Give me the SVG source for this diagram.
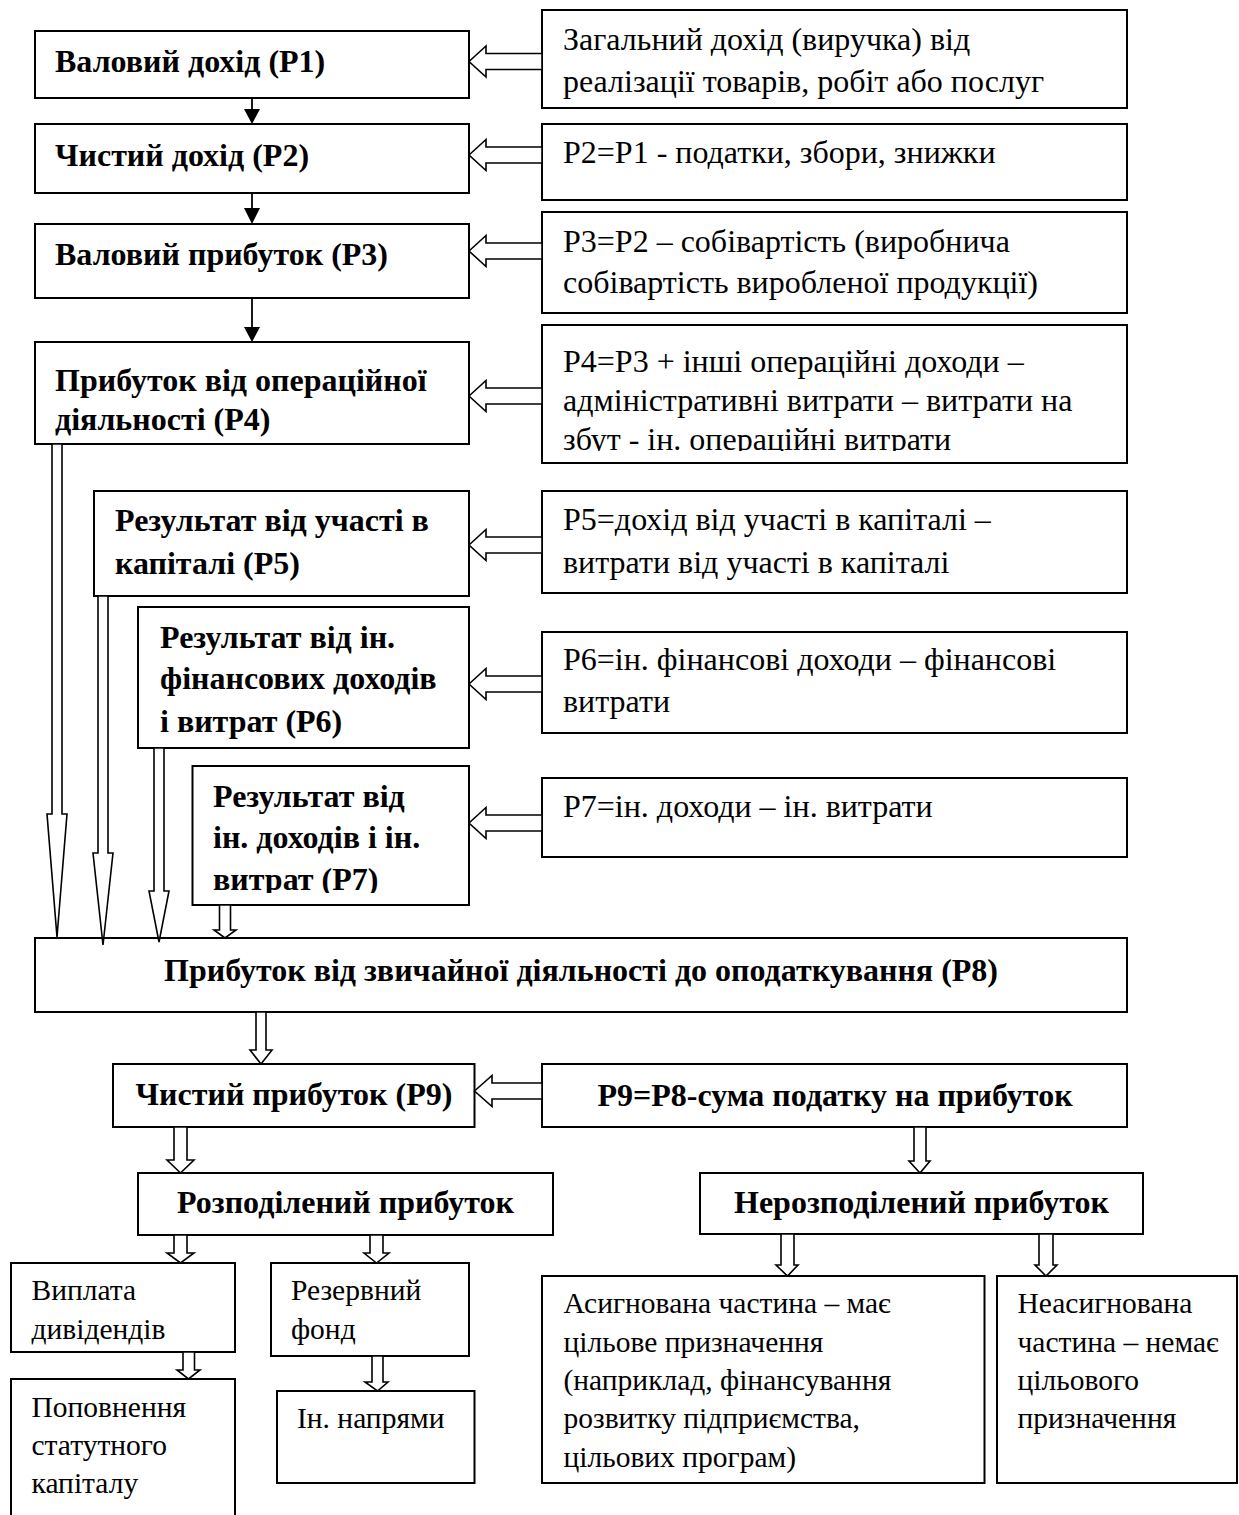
<svg xmlns="http://www.w3.org/2000/svg" width="1239" height="1515" viewBox="0 0 1239 1515">
<style>
.box{fill:#fff;stroke:#000;stroke-width:2}
.ha{fill:#fff;stroke:#000;stroke-width:1.6;stroke-linejoin:miter}
.sa{fill:#000;stroke:none}
.ln{stroke:#000;stroke-width:1.8;fill:none}
.b{font-family:"Liberation Serif","Times New Roman",serif;font-weight:bold;font-size:32px;fill:#000}
.r{font-family:"Liberation Serif","Times New Roman",serif;font-size:32px;fill:#000}
.rs{font-family:"Liberation Serif","Times New Roman",serif;font-size:29.5px;fill:#000}
.c{text-anchor:middle}
</style>
<defs>
<clipPath id="clipR4"><rect x="542" y="325" width="585" height="126"/></clipPath>
<clipPath id="clipP7"><rect x="192" y="766" width="277" height="127"/></clipPath>
</defs>
<rect width="1239" height="1515" fill="#fff"/>

<g id="nodes">
<g id="p1"><rect class="box" x="35" y="31" width="434" height="67"/><text class="b" x="55" y="72">Валовий дохід (P1)</text></g>
<g id="r1"><rect class="box" x="542" y="10" width="585" height="98"/><text class="r" x="563" y="50">Загальний дохід (виручка) від</text><text class="r" x="563" y="92">реалізації товарів, робіт або послуг</text></g>
<g id="p2"><rect class="box" x="35" y="124" width="434" height="69"/><text class="b" x="55" y="166">Чистий дохід (P2)</text></g>
<g id="r2"><rect class="box" x="542" y="124" width="585" height="76"/><text class="r" x="563" y="163">P2=P1 - податки, збори, знижки</text></g>
<g id="p3"><rect class="box" x="35" y="224" width="434" height="74"/><text class="b" x="55" y="265">Валовий прибуток (P3)</text></g>
<g id="r3"><rect class="box" x="542" y="212" width="585" height="101"/><text class="r" x="563" y="252">P3=P2 – собівартість (виробнича</text><text class="r" x="563" y="293">собівартість виробленої продукції)</text></g>
<g id="p4"><rect class="box" x="35" y="342" width="434" height="102"/><text class="b" x="55" y="391">Прибуток від операційної</text><text class="b" x="55" y="430">діяльності (P4)</text></g>
<g id="r4"><rect class="box" x="542" y="325" width="585" height="138"/><g clip-path="url(#clipR4)"><text class="r" x="563" y="372">P4=P3 + інші операційні доходи –</text><text class="r" x="563" y="411">адміністративні витрати – витрати на</text><text class="r" x="563" y="450">збут - ін. операційні витрати</text></g></g>
<g id="p5"><rect class="box" x="94" y="491" width="375" height="105"/><text class="b" x="115" y="531">Результат від участі в</text><text class="b" x="115" y="574">капіталі (P5)</text></g>
<g id="r5"><rect class="box" x="542" y="491" width="585" height="102"/><text class="r" x="563" y="530">P5=дохід від участі в капіталі –</text><text class="r" x="563" y="573">витрати від участі в капіталі</text></g>
<g id="p6"><rect class="box" x="138" y="607" width="331" height="141"/><text class="b" x="160" y="648">Результат від ін.</text><text class="b" x="160" y="689">фінансових доходів</text><text class="b" x="160" y="732">і витрат (P6)</text></g>
<g id="r6"><rect class="box" x="542" y="632" width="585" height="101"/><text class="r" x="563" y="670">P6=ін. фінансові доходи – фінансові</text><text class="r" x="563" y="712">витрати</text></g>
<g id="p7"><rect class="box" x="192.5" y="766" width="276.5" height="139"/><g clip-path="url(#clipP7)"><text class="b" x="213" y="807">Результат від</text><text class="b" x="213" y="848">ін. доходів і ін.</text><text class="b" x="213" y="890">витрат (P7)</text></g></g>
<g id="r7"><rect class="box" x="542" y="778" width="585" height="79"/><text class="r" x="563" y="817">P7=ін. доходи – ін. витрати</text></g>
<g id="p8"><rect class="box" x="35" y="938" width="1092" height="74"/><text class="b c" x="581" y="981">Прибуток від звичайної діяльності до оподаткування (P8)</text></g>
<g id="p9"><rect class="box" x="113" y="1064" width="361.5" height="63"/><text class="b c" x="294" y="1105">Чистий прибуток (P9)</text></g>
<g id="r9"><rect class="box" x="542" y="1064" width="585" height="63"/><text class="b c" x="835" y="1106">P9=P8-сума податку на прибуток</text></g>
<g id="rozp"><rect class="box" x="138" y="1173" width="415" height="62"/><text class="b c" x="345.5" y="1213">Розподілений прибуток</text></g>
<g id="neroz"><rect class="box" x="700" y="1173" width="443" height="61"/><text class="b c" x="921.5" y="1213">Нерозподілений прибуток</text></g>
<g id="vyplata"><rect class="box" x="11" y="1263" width="224" height="89"/><text class="rs" x="31.5" y="1300">Виплата</text><text class="rs" x="31.5" y="1339">дивідендів</text></g>
<g id="rezerv"><rect class="box" x="271" y="1263" width="198" height="93"/><text class="rs" x="291" y="1300">Резервний</text><text class="rs" x="291" y="1339">фонд</text></g>
<g id="popovn"><rect class="box" x="11" y="1379" width="224" height="160"/><text class="rs" x="31.5" y="1417">Поповнення</text><text class="rs" x="31.5" y="1455">статутного</text><text class="rs" x="31.5" y="1493">капіталу</text></g>
<g id="inshi"><rect class="box" x="277" y="1391" width="197.5" height="92"/><text class="rs" x="297" y="1428">Ін. напрями</text></g>
<g id="asyg"><rect class="box" x="542" y="1276" width="442.5" height="207"/><text class="rs" x="563.5" y="1313">Асигнована частина – має</text><text class="rs" x="563.5" y="1352">цільове призначення</text><text class="rs" x="563.5" y="1390">(наприклад, фінансування</text><text class="rs" x="563.5" y="1428">розвитку підприємства,</text><text class="rs" x="563.5" y="1467">цільових програм)</text></g>
<g id="neasyg"><rect class="box" x="997" y="1276" width="240" height="207"/><text class="rs" x="1017.5" y="1313">Неасигнована</text><text class="rs" x="1017.5" y="1352">частина – немає</text><text class="rs" x="1017.5" y="1390">цільового</text><text class="rs" x="1017.5" y="1428">призначення</text></g>
</g>

<g id="connectors">
<line class="ln" x1="252" y1="98" x2="252" y2="110"/><polygon class="sa" points="244,109 260,109 252,124"/>
<line class="ln" x1="252" y1="193" x2="252" y2="209"/><polygon class="sa" points="244,208 260,208 252,224"/>
<line class="ln" x1="252" y1="298" x2="252" y2="328"/><polygon class="sa" points="244,327 260,327 252,342"/>
<polygon class="ha" points="469,61.5 486,46 486,53.5 542,53.5 542,69.5 486,69.5 486,77"/>
<polygon class="ha" points="469,155 486,139.5 486,147 542,147 542,163 486,163 486,170.5"/>
<polygon class="ha" points="469,251 486,235.5 486,243 542,243 542,259 486,259 486,266.5"/>
<polygon class="ha" points="469,396 486,380.5 486,388 542,388 542,404 486,404 486,411.5"/>
<polygon class="ha" points="469,545 486,529.5 486,537 542,537 542,553 486,553 486,560.5"/>
<polygon class="ha" points="469,684 486,668.5 486,676 542,676 542,692 486,692 486,699.5"/>
<polygon class="ha" points="469,823 486,807.5 486,815 542,815 542,831 486,831 486,838.5"/>
<polygon class="ha" points="474.5,1091 492,1075.5 492,1083 542,1083 542,1099 492,1099 492,1106.5"/>
<polygon class="ha" points="52,444 62,444 62,814 67,814 57,937 47,814 52,814"/>
<polygon class="ha" points="98,596 108,596 108,853 113,853 103,945 93,853 98,853"/>
<polygon class="ha" points="154,748 164,748 164,891 169,891 159,942 149,891 154,891"/>
<polygon class="ha" points="219.5,905 230.5,905 230.5,930 236,930 225,938 214,930 219.5,930"/>
<polygon class="ha" points="256,1012 266,1012 266,1050 272,1050 261,1064 250,1050 256,1050"/>
<polygon class="ha" points="174,1127 187,1127 187,1160 194,1160 180.5,1173 167,1160 174,1160"/>
<polygon class="ha" points="174,1235 187,1235 187,1253 194,1253 180.5,1263 167,1253 174,1253"/>
<polygon class="ha" points="370,1235 383,1235 383,1253 389,1253 376.5,1263 364,1253 370,1253"/>
<polygon class="ha" points="183,1352 194.5,1352 194.5,1370 200,1370 188.5,1379 177,1370 183,1370"/>
<polygon class="ha" points="372,1356 383,1356 383,1382 388,1382 377.5,1391 365,1382 372,1382"/>
<polygon class="ha" points="914,1127 926,1127 926,1161 930,1161 920,1173 909,1161 914,1161"/>
<polygon class="ha" points="781,1234 794,1234 794,1265 798,1265 787.5,1276 776,1265 781,1265"/>
<polygon class="ha" points="1039,1234 1053,1234 1053,1265 1057,1265 1046,1276 1035,1265 1039,1265"/>
</g>
</svg>
